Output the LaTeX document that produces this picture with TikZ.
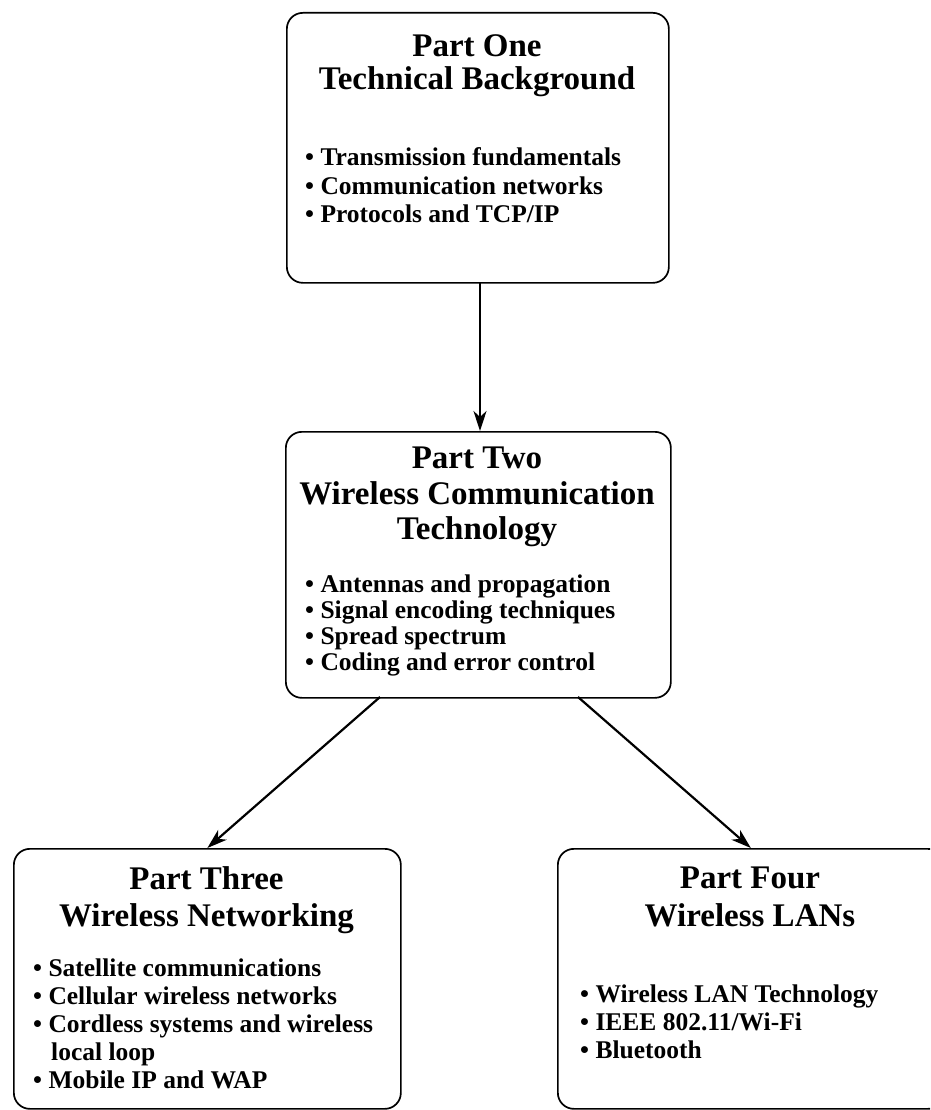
\documentclass[tikz,border=0pt]{standalone}
\usepackage{fontspec}
\setmainfont{Liberation Serif}
\usetikzlibrary{arrows.meta}
\begin{document}
\begin{tikzpicture}[x=1pt,y=-1pt,
  box/.style={draw, line width=1.7pt, rounded corners=16pt, inner sep=0pt, anchor=north west},
  ttl/.style={anchor=base, inner sep=0pt, font=\fontsize{33}{34}\selectfont\bfseries},
  itm/.style={anchor=base west, inner sep=0pt, font=\fontsize{25.5}{28}\selectfont\bfseries},
  conn/.style={line width=2.2pt, -{Stealth[length=20pt,width=13pt,inset=6pt]}}
]
\useasboundingbox (0,0) rectangle (930,1110);
\clip (0,0) rectangle (930,1110);
% boxes
\node[box, minimum width=382pt, minimum height=270pt] (b1) at (286,12) {};
\node[box, minimum width=385pt, minimum height=266pt] (b2) at (285,431) {};
\node[box, minimum width=387pt, minimum height=260pt] (b3) at (13,848) {};
\node[box, minimum width=386pt, minimum height=260pt] (b4) at (557,848) {};
% box 1
\node[ttl] (t1a) at (477,57) {Part One};
\node[ttl] (t1b) at (477,90) {Technical Background};
\node[itm] (i1a) at (305,166) {\textbullet\ Transmission fundamentals};
\node[itm] (i1b) at (305,194) {\textbullet\ Communication networks};
\node[itm] (i1c) at (305,222) {\textbullet\ Protocols and TCP/IP};
% box 2
\node[ttl] (t2a) at (477,468) {Part Two};
\node[ttl] (t2b) at (477,504) {Wireless Communication};
\node[ttl] (t2c) at (477,539) {Technology};
\node[itm] (i2a) at (305,592) {\textbullet\ Antennas and propagation};
\node[itm] (i2b) at (305,618) {\textbullet\ Signal encoding techniques};
\node[itm] (i2c) at (305,644) {\textbullet\ Spread spectrum};
\node[itm] (i2d) at (305,670) {\textbullet\ Coding and error control};
% box 3
\node[ttl] (t3a) at (206.5,889) {Part Three};
\node[ttl] (t3b) at (206.5,926) {Wireless Networking};
\node[itm] (i3a) at (33,976) {\textbullet\ Satellite communications};
\node[itm] (i3b) at (33,1004) {\textbullet\ Cellular wireless networks};
\node[itm] (i3c) at (33,1032) {\textbullet\ Cordless systems and wireless};
\node[itm] (i3d) at (51,1060) {local loop};
\node[itm] (i3e) at (33,1088) {\textbullet\ Mobile IP and WAP};
% box 4
\node[ttl] (t4a) at (750,888) {Part Four};
\node[ttl] (t4b) at (750,926) {Wireless LANs};
\node[itm] (i4a) at (580,1002) {\textbullet\ Wireless LAN Technology};
\node[itm] (i4b) at (580,1030) {\textbullet\ IEEE 802.11/Wi-Fi};
\node[itm] (i4c) at (580,1058) {\textbullet\ Bluetooth};
% connectors
\coordinate (s1) at (480,282);
\coordinate (e1) at (480,431);
\coordinate (s3) at (380,697);
\coordinate (s4) at (578,697);
\draw[conn] (s1) -- (e1);
\draw[conn] (s3) -- (b3.north);
\draw[conn] (s4) -- (b4.north);
\end{tikzpicture}
\end{document}
